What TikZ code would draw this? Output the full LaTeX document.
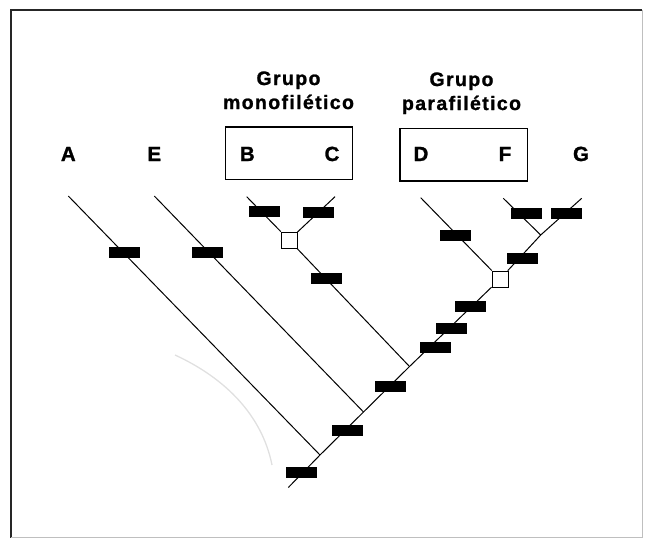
\documentclass[tikz,border=0pt]{standalone}
\usepackage{fontspec}
\setmainfont{Liberation Sans}
\newfontfamily\titlefont[LetterSpace=7,BoldFeatures={FakeBold=1.2}]{Liberation Sans}
\newfontfamily\taxonfont[BoldFeatures={FakeBold=1.2}]{Liberation Sans}
\tikzset{
  taxon/.style={font=\taxonfont\fontsize{20.5}{24}\selectfont\bfseries,anchor=base,inner sep=0pt},
  grouptitle/.style={font=\titlefont\fontsize{19.5}{24}\selectfont\bfseries,anchor=base,inner sep=0pt},
  charbar/.style={fill=black,minimum width=31pt,minimum height=11pt,inner sep=0pt},
  splitbox/.style={draw,fill=white,line width=.8pt,minimum size=16pt,inner sep=0pt},
  branch/.style={line width=1pt}
}
\begin{document}
\begin{tikzpicture}[x=1pt,y=1pt,yscale=-1]
    \useasboundingbox (0,0) rectangle (645,539);
    \draw[line width=1.4pt,color=black!85](642,10) -- (11,10) -- (11,537.5);
    \draw[line width=1pt,color=black!25](642,10) -- (642,537.5) -- (11,537.5);
    \draw[color=black!12,line width=1.3pt](175,355) .. controls (225,378) and (262,415) .. (272,465);
    \node[grouptitle] (grupoM) at (288.5,85) {Grupo};
    \node[grouptitle] (monoM) at (288.5,109) {monofilético};
    \node[grouptitle] (grupoP) at (461.5,86) {Grupo};
    \node[grouptitle] (paraP) at (461.5,110) {parafilético};
    \draw[line width=1.2pt](225.7,127) rectangle (352.7,179.5);
    \draw[line width=1.2pt](400,128.3) rectangle (527.3,181);
    \node[taxon] (lA) at (68.3,161) {A};
    \node[taxon] (lE) at (154.3,161) {E};
    \node[taxon] (lB) at (247.3,161) {B};
    \node[taxon] (lC) at (332,161) {C};
    \node[taxon] (lD) at (421,161) {D};
    \node[taxon] (lF) at (505,161) {F};
    \node[taxon] (lG) at (581,161) {G};
    \coordinate (tA) at (68.3,196);
    \coordinate (tE) at (154.3,196);
    \coordinate (tB) at (246.7,196.7);
    \coordinate (tC) at (335,196.7);
    \coordinate (tD) at (420.7,197.7);
    \coordinate (tF) at (503.3,198.3);
    \coordinate (tG) at (581.7,198.3);
    \coordinate (root) at (288.3,487.5);
    \coordinate (jA) at (320,455);
    \coordinate (jE) at (363.5,412);
    \coordinate (jBC) at (409.5,366.5);
    \coordinate (jFG) at (540.7,235);
    \node[splitbox] (sqBC) at (289,240) {};
    \node[splitbox] (sqDF) at (500,279) {};
    \draw[branch](root) -- (jA) -- (jE) -- (jBC) -- (sqDF);
    \draw[branch](tA) -- (jA) (tE) -- (jE) (sqBC) -- (jBC);
    \draw[branch](tB) -- (sqBC) (tC) -- (sqBC);
    \draw[branch](tD) -- (sqDF) (jFG) -- (sqDF);
    \draw[branch](tF) -- (jFG) -- (tG);
    \foreach \n/\p in {barA/{124.5,252.7},barE/{207,252.7},barB/{264,211.5},
                       barC/{318,212},barBC/{326,278},barD/{455,235},
                       barF/{526.5,213.5},barG/{566,213.5},barFG/{522,258},
                       barR/{301,472},barAE/{347,430.5},barEB/{390,386},
                       barU/{435,347.5},barV/{451,328.7},barW/{470.5,306}}
      \node[charbar] (\n) at (\p) {};
\end{tikzpicture}
\end{document}
